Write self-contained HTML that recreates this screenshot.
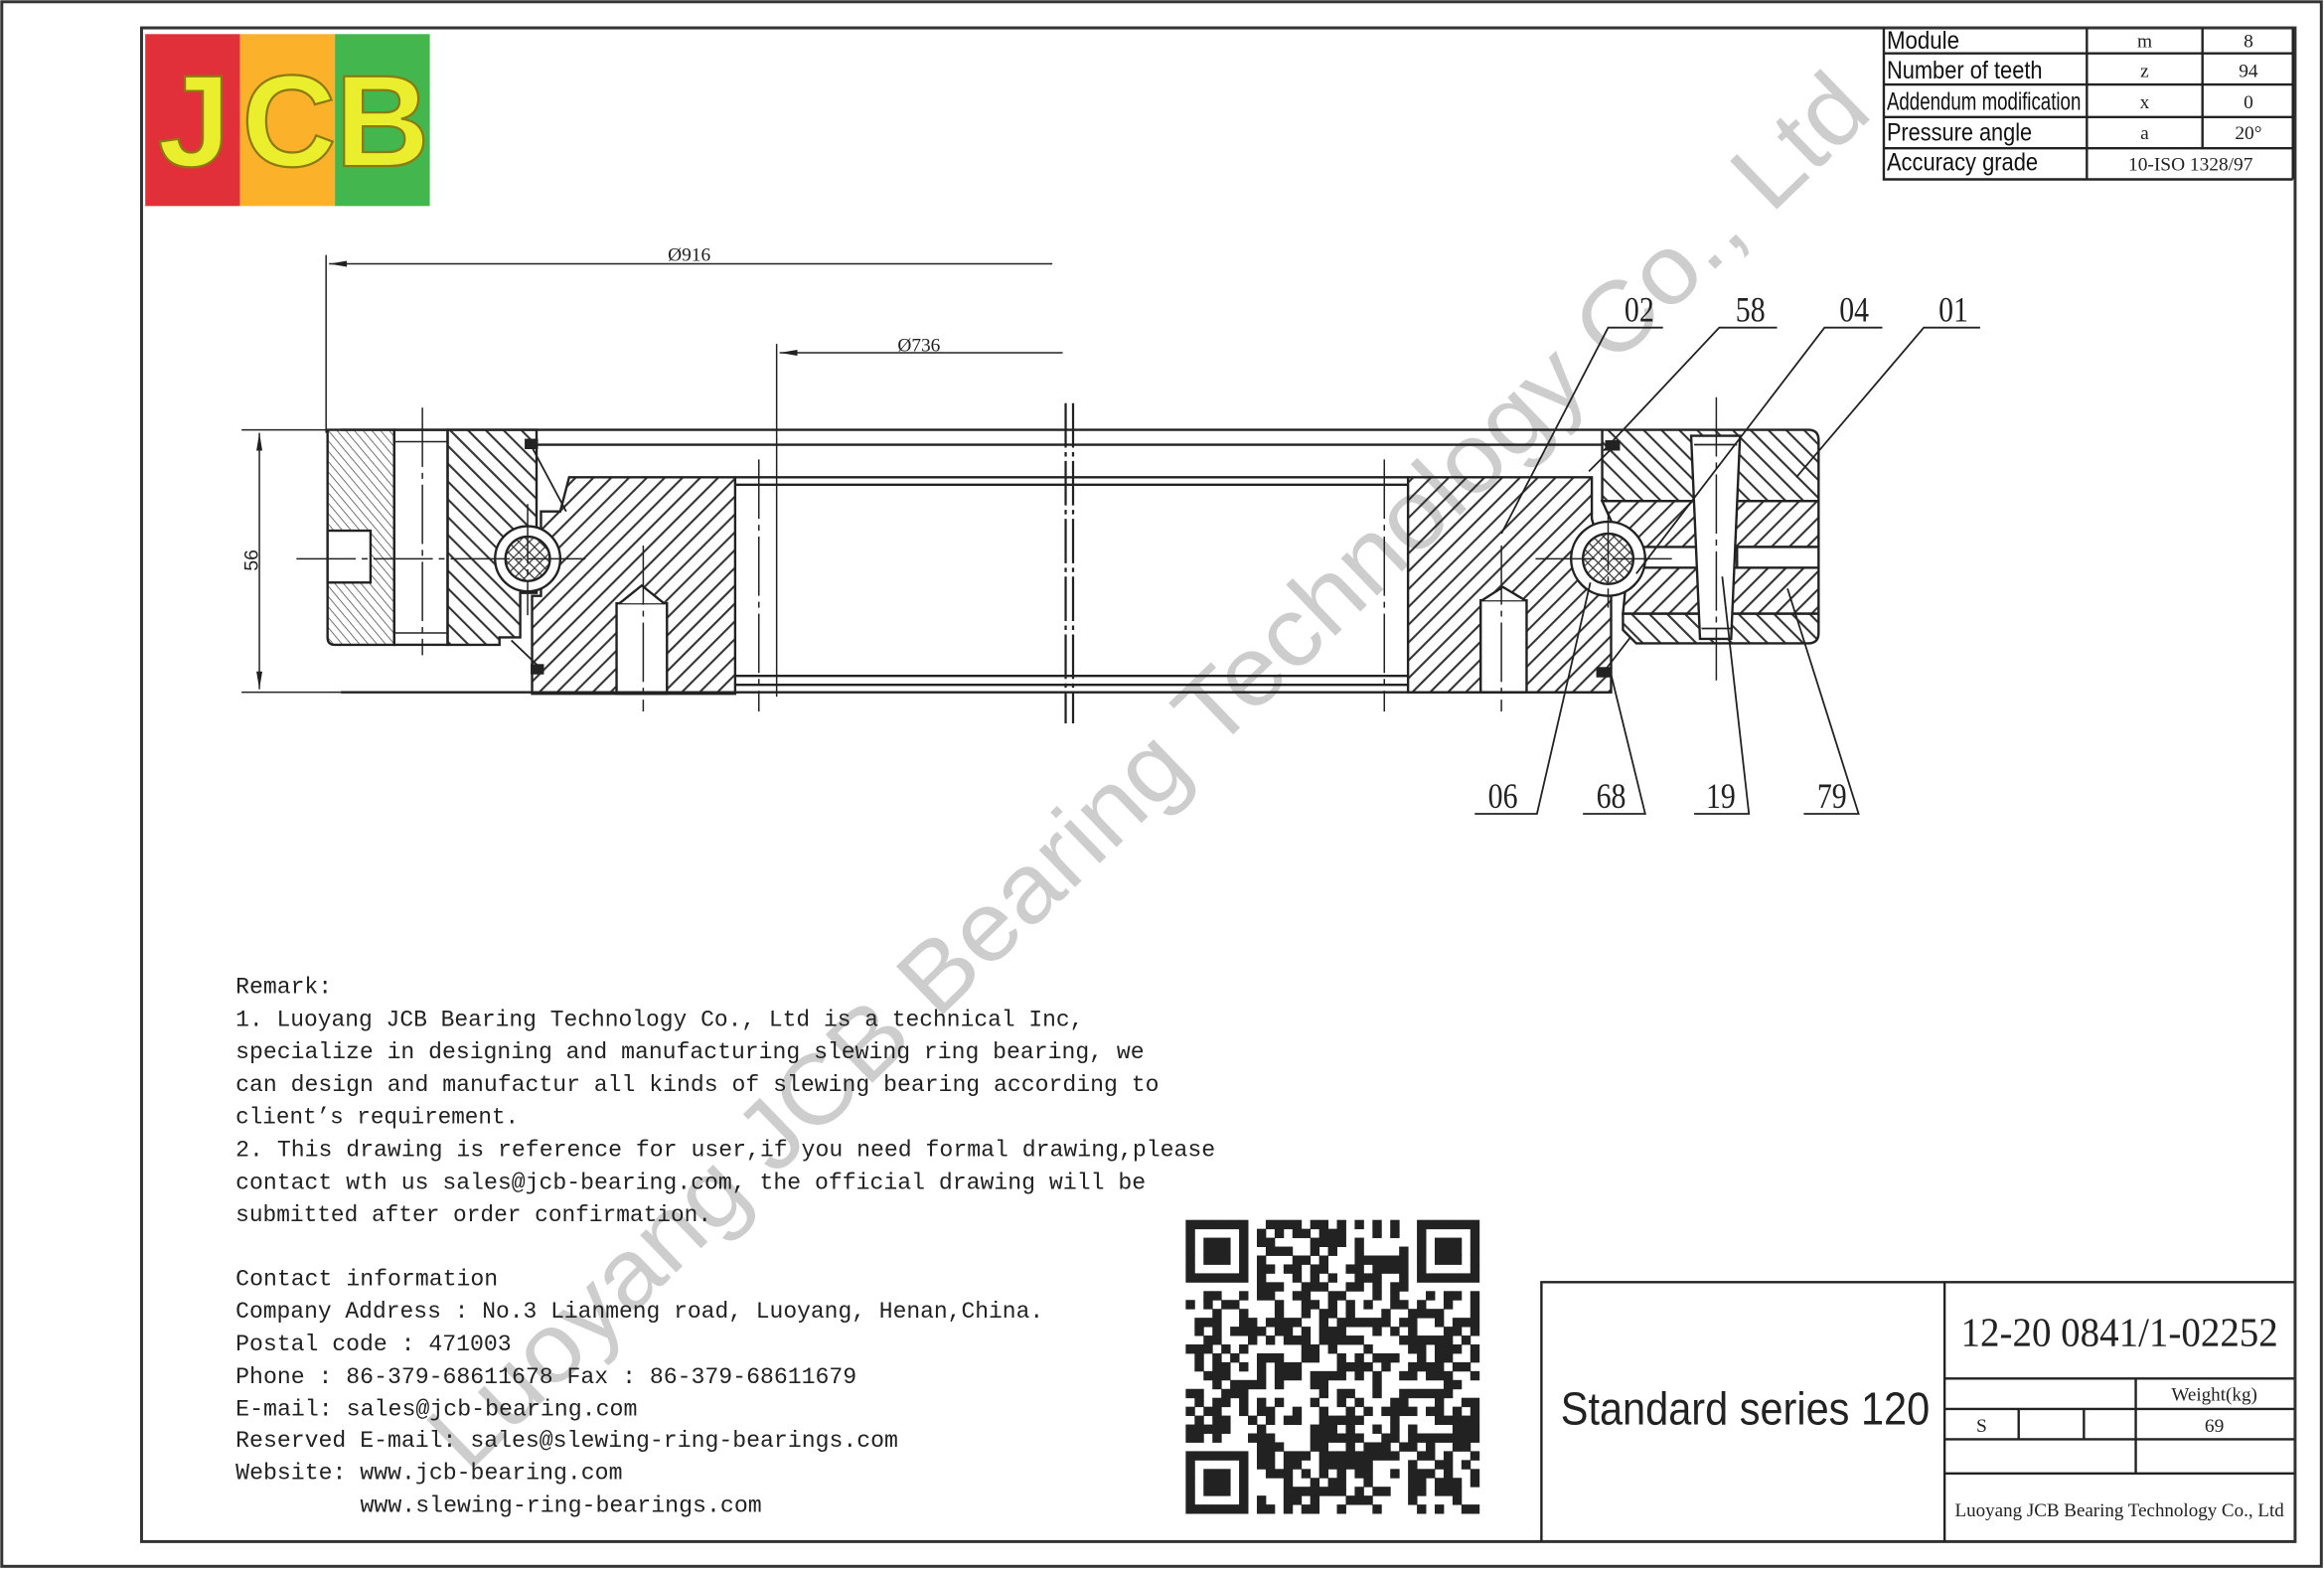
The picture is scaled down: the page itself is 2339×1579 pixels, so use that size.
<!DOCTYPE html>
<html><head><meta charset="utf-8"><style>
html,body{margin:0;padding:0;background:#fff;}
svg{display:block;}
.t{font-family:"Liberation Mono",monospace;font-size:15.5px;fill:#222;}
.n{font-family:"Liberation Serif",serif;font-size:24px;fill:#222;}
.tb{font-family:"Liberation Sans",sans-serif;font-size:17px;fill:#111;}
.ts{font-family:"Liberation Serif",serif;font-size:13px;fill:#222;}
</style></head><body>
<svg id="s" width="2339" height="1579" viewBox="0 0 1568 1058.5" preserveAspectRatio="none" xmlns="http://www.w3.org/2000/svg">
<defs>
<pattern id="hf" width="8.5" height="8.5" patternUnits="userSpaceOnUse" patternTransform="rotate(45)"><line x1="1" y1="0" x2="1" y2="8.5" stroke="#333" stroke-width="1.4"/></pattern>
<pattern id="hb" width="8.5" height="8.5" patternUnits="userSpaceOnUse" patternTransform="rotate(-45)"><line x1="1" y1="0" x2="1" y2="8.5" stroke="#333" stroke-width="1.4"/></pattern>
<pattern id="ht" width="4.5" height="4.5" patternUnits="userSpaceOnUse" patternTransform="rotate(-40)"><line x1="1" y1="0" x2="1" y2="4.5" stroke="#444" stroke-width="0.5"/></pattern>
<pattern id="hx" width="5" height="5" patternUnits="userSpaceOnUse" patternTransform="rotate(45)"><path d="M1 0V5M0 1H5" stroke="#333" stroke-width="0.8"/></pattern>
</defs>
<rect width="1568" height="1058.5" fill="#fff"/>
<rect x="1.2" y="1.2" width="1565" height="1055.5" fill="none" stroke="#333" stroke-width="2"/>
<rect x="95.5" y="18.8" width="1453" height="1021.2" fill="none" stroke="#333" stroke-width="2"/>
<rect x="98" y="23" width="64" height="116" fill="#e2303a"/>
<rect x="162" y="23" width="64" height="116" fill="#fbb12a"/>
<rect x="226" y="23" width="64" height="116" fill="#43b64e"/>
<g font-family="Liberation Sans,sans-serif" font-weight="bold" font-size="88" fill="#eaee2c" stroke="#8a7a10" stroke-width="1.5" text-anchor="middle">
<text x="131" y="112">J</text><text x="195" y="112">C</text><text x="258" y="112">B</text></g>
<text x="790" y="536" transform="rotate(-44 790 536)" text-anchor="middle" font-family="Liberation Sans,sans-serif" font-size="66" fill="#cdcdcd" textLength="1320" lengthAdjust="spacingAndGlyphs">Luoyang JCB Bearing Technology Co., Ltd</text>
<g stroke="#222" stroke-width="1.6" fill="none">
<path d="M1271 19V121H1547M1408 19V121M1486 19V100M1547 19V121M1271 36H1547M1271 57H1547M1271 79H1547M1271 100H1547"/>
</g>
<g class="tb">
<text x="1273" y="33" textLength="49" lengthAdjust="spacingAndGlyphs">Module</text>
<text x="1273" y="53" textLength="105" lengthAdjust="spacingAndGlyphs">Number of teeth</text>
<text x="1273" y="74" textLength="131" lengthAdjust="spacingAndGlyphs">Addendum modification</text>
<text x="1273" y="95" textLength="98" lengthAdjust="spacingAndGlyphs">Pressure angle</text>
<text x="1273" y="115" textLength="102" lengthAdjust="spacingAndGlyphs">Accuracy grade</text>
</g>
<g class="ts" text-anchor="middle">
<text x="1447" y="32">m</text><text x="1447" y="52">z</text><text x="1447" y="73">x</text><text x="1447" y="94">a</text>
<text x="1517" y="32">8</text><text x="1517" y="52">94</text><text x="1517" y="73">0</text><text x="1517" y="94">20°</text>
<text x="1478" y="115">10-ISO 1328/97</text>
</g>
<g stroke="#222" stroke-width="1.6" fill="none">
<path d="M1040 1040V865H1548M1312 865V1040M1312 930H1548M1312 950.5H1548M1312 971H1548M1312 994H1548M1441 930V994M1362 950.5V971M1406 950.5V971"/>
</g>
<text x="1430" y="908" text-anchor="middle" font-family="Liberation Serif,serif" font-size="28" fill="#222" textLength="214" lengthAdjust="spacingAndGlyphs">12-20 0841/1-02252</text>
<text x="1053" y="961" font-family="Liberation Sans,sans-serif" font-size="31" fill="#222" textLength="249" lengthAdjust="spacingAndGlyphs">Standard series 120</text>
<text x="1494" y="945" text-anchor="middle" class="ts" textLength="58" lengthAdjust="spacingAndGlyphs">Weight(kg)</text>
<text x="1337" y="966" text-anchor="middle" class="ts">S</text>
<text x="1494" y="966" text-anchor="middle" class="ts">69</text>
<text x="1430" y="1023" text-anchor="middle" class="ts" textLength="222" lengthAdjust="spacingAndGlyphs">Luoyang JCB Bearing Technology Co., Ltd</text>
<g class="t">
<text x="159" y="670" textLength="65" lengthAdjust="spacingAndGlyphs">Remark:</text>
<text x="159" y="692" textLength="572" lengthAdjust="spacingAndGlyphs">1. Luoyang JCB Bearing Technology Co., Ltd is a technical Inc,</text>
<text x="159" y="714" textLength="613" lengthAdjust="spacingAndGlyphs">specialize in designing and manufacturing slewing ring bearing, we</text>
<text x="159" y="736" textLength="623" lengthAdjust="spacingAndGlyphs">can design and manufactur all kinds of slewing bearing according to</text>
<text x="159" y="758" textLength="191" lengthAdjust="spacingAndGlyphs">client’s requirement.</text>
<text x="159" y="780" textLength="661" lengthAdjust="spacingAndGlyphs">2. This drawing is reference for user,if you need formal drawing,please</text>
<text x="159" y="802" textLength="614" lengthAdjust="spacingAndGlyphs">contact wth us sales@jcb-bearing.com, the official drawing will be</text>
<text x="159" y="824" textLength="321" lengthAdjust="spacingAndGlyphs">submitted after order confirmation.</text>
<text x="159" y="867" textLength="177" lengthAdjust="spacingAndGlyphs">Contact information</text>
<text x="159" y="889" textLength="545" lengthAdjust="spacingAndGlyphs">Company Address : No.3 Lianmeng road, Luoyang, Henan,China.</text>
<text x="159" y="911" textLength="186" lengthAdjust="spacingAndGlyphs">Postal code : 471003</text>
<text x="159" y="933" textLength="419" lengthAdjust="spacingAndGlyphs">Phone : 86-379-68611678 Fax : 86-379-68611679</text>
<text x="159" y="955" textLength="271" lengthAdjust="spacingAndGlyphs">E-mail: sales@jcb-bearing.com</text>
<text x="159" y="976" textLength="447" lengthAdjust="spacingAndGlyphs">Reserved E-mail: sales@slewing-ring-bearings.com</text>
<text x="159" y="998" textLength="261" lengthAdjust="spacingAndGlyphs">Website: www.jcb-bearing.com</text>
<text x="243" y="1020" textLength="271" lengthAdjust="spacingAndGlyphs">www.slewing-ring-bearings.com</text>
</g>
<g id="qr" fill="#222"></g>

<g stroke="#222" stroke-width="1" fill="none">
<path d="M220 172V292M222 178H710M524 232V470M526 238H717M163 290H230M163 467H230M175 292V465"/>
</g>
<g fill="#222">
<path d="M222 178l12 -2v4z"/><path d="M526 238l12 -2v4z"/>
<path d="M175 292l-2 12h4z"/><path d="M175 465l-2 -12h4z"/>
</g>
<text x="465" y="176" text-anchor="middle" class="ts">Ø916</text>
<text x="620" y="237" text-anchor="middle" class="ts">Ø736</text>
<text x="174" y="378" transform="rotate(-90 174 378)" text-anchor="middle" font-family="Liberation Sans,sans-serif" font-size="13" fill="#222">56</text>

<g stroke="#222" stroke-width="1.6">
<path d="M221 290H266V435H226Q221 435 221 430Z" fill="url(#ht)"/>
<rect x="221" y="358" width="29" height="35" fill="#fff"/>
<rect x="266" y="290" width="36" height="145" fill="#fff"/>
<path d="M266 298H302M266 427H302" fill="none" stroke-width="1"/>
<path d="M302 290H362V400H351V430H337V435H302Z" fill="url(#hb)"/>
<path d="M384 322H496V468H359V402H365V345H378Z" fill="url(#hf)"/>
<circle cx="356" cy="377" r="22" fill="#fff"/>
<circle cx="356" cy="377" r="15" fill="url(#hx)"/>
<rect x="416" y="407" width="34" height="61" fill="#fff"/>
<path d="M418 407L433 395L448 407" fill="#fff"/>
</g>
<g stroke="#222" stroke-width="1" fill="none">
<path d="M200 377H395M356 340V415M285 275V442M434 368V480M512 310V480" stroke-dasharray="40 4 4 4"/>
<path d="M362 300H1081M230 290H1081M496 322H950M496 327H950M496 456H950M496 462H950M230 467H1087" stroke-width="1.6"/>
<path d="M719 272V488M724 272V488" stroke-width="1.5" stroke-dasharray="30 3 3 3"/>
<path d="M934 310V480" stroke-dasharray="40 4 4 4"/>
<path d="M358 300L382 345M345 432L366 452" stroke-width="1.2"/>
</g>
<rect x="354" y="296" width="9" height="7" fill="#222"/>
<rect x="358" y="448" width="9" height="7" fill="#222"/>

<g stroke="#222" stroke-width="1.6">
<path d="M950 322H1074V350L1087 398V467H950Z" fill="url(#hf)"/>
<path d="M1081 290H1220Q1227 290 1227 297V338H1081Z" fill="url(#hb)"/>
<path d="M1081 338H1227V369H1095Z" fill="url(#hf)"/>
<path d="M1098 383H1227V414H1095Z" fill="url(#hf)"/>
<path d="M1095 414H1227V427Q1227 434 1220 434H1104L1095 425Z" fill="url(#hb)"/>
<rect x="1172" y="369" width="55" height="14" fill="#fff"/>
<path d="M1141 294H1174L1168 431H1147Z" fill="#fff"/>
<circle cx="1085" cy="377" r="25" fill="#fff"/>
<circle cx="1085" cy="377" r="17" fill="url(#hx)"/>
<rect x="999" y="405" width="31" height="62" fill="#fff"/>
<path d="M1000 405L1014 396L1029 405" fill="#fff"/>
</g>
<g stroke="#222" stroke-width="1" fill="none">
<path d="M1036 377H1128M1158 268V459M1013 368V480M1085 345V410" stroke-dasharray="40 4 4 4"/>
<path d="M1143 300H1172M1148 424H1168M1072 318L1090 300M1083 452L1100 430" stroke-width="1.2"/>
</g>
<rect x="1083" y="297" width="10" height="7" fill="#222"/>
<rect x="1077" y="450" width="10" height="7" fill="#222"/>

<g stroke="#222" stroke-width="1.2" fill="none">
<path d="M1122 221H1085L1013 360"/>
<path d="M1199 221H1160L1082 304"/>
<path d="M1270 221H1231L1104 387"/>
<path d="M1336 221H1298L1212 322"/>
<path d="M995 549H1037L1073 393"/>
<path d="M1068 549H1110L1086 451"/>
<path d="M1143 549H1180L1162 389"/>
<path d="M1217 549H1254L1206 397"/>
</g>
<g class="n" text-anchor="middle">
<text x="1106" y="217" textLength="20" lengthAdjust="spacingAndGlyphs">02</text>
<text x="1181" y="217" textLength="20" lengthAdjust="spacingAndGlyphs">58</text>
<text x="1251" y="217" textLength="20" lengthAdjust="spacingAndGlyphs">04</text>
<text x="1318" y="217" textLength="20" lengthAdjust="spacingAndGlyphs">01</text>
<text x="1014" y="545" textLength="20" lengthAdjust="spacingAndGlyphs">06</text>
<text x="1087" y="545" textLength="20" lengthAdjust="spacingAndGlyphs">68</text>
<text x="1161" y="545" textLength="20" lengthAdjust="spacingAndGlyphs">19</text>
<text x="1236" y="545" textLength="20" lengthAdjust="spacingAndGlyphs">79</text>
</g>
</svg>
<script>
(function(){
var g=document.getElementById('qr'),N=33,x0=800,y0=823,m=6,s=12345,h='';
function r(){s=(s*1103515245+12345)&0x7fffffff;return s/0x7fffffff;}
function fin(a,b){return (a>=0&&a<7&&b>=0&&b<7);}
for(var i=0;i<N;i++)for(var j=0;j<N;j++){
 var on=false,F=null;
 [[0,0],[N-7,0],[0,N-7]].forEach(function(p){var a=i-p[0],b=j-p[1];if(a>=-1&&a<8&&b>=-1&&b<8)F=[a,b];});
 if(F){var a=F[0],b=F[1];if(fin(a,b)){on=(a==0||a==6||b==0||b==6||(a>=2&&a<=4&&b>=2&&b<=4));}else on=false;}
 else on=r()<0.52;
 if(on)h+='<rect x="'+(x0+i*m)+'" y="'+(y0+j*m)+'" width="'+(m+0.3)+'" height="'+(m+0.3)+'"/>';
}
g.innerHTML=h;
})();
</script>
</body></html>
